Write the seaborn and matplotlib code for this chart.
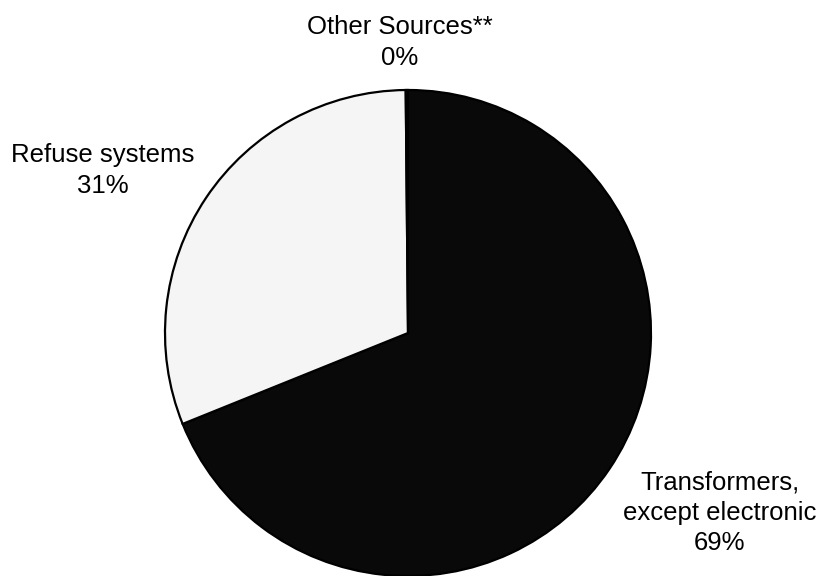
import numpy as np
import matplotlib
matplotlib.use('Agg')
import matplotlib.pyplot as plt
import seaborn as sns

# data
labels = ['Transformers,\nexcept electronic', 'Refuse systems', 'Other Sources**']
shares = [69.0, 31.0, 0.15]
pct_text = ['69%', '31%', '0%']
colors = ['#090909', '#f5f5f5', '#808080']

sns.set_theme(style='white')
plt.rcParams['font.family'] = ['Liberation Sans', 'DejaVu Sans']

fig = plt.figure(figsize=(8.22, 5.76), dpi=100)
ax = fig.add_axes([0, 0, 1, 1])

ax.pie(shares, colors=colors, startangle=90, counterclock=False,
       wedgeprops=dict(edgecolor='black', linewidth=1.6))

# pie is radius 1, centre at (408, 333) px, 243 px per unit
ax.set_xlim(-408 / 243, (822 - 408) / 243)
ax.set_ylim(-(576 - 333) / 243, 333 / 243)
ax.set_aspect('auto')
ax.axis('off')

# label spots around the pie
pos = [(1.282, -0.74), (-1.255, 0.67), (-0.033, 1.195)]
for lab, p, (x, y) in zip(labels, pct_text, pos):
    ax.text(x, y, lab + '\n' + p, ha='center', va='center',
            multialignment='center', fontsize=18.5, linespacing=1.35,
            color='black')

fig.savefig('out.png', dpi=100)
